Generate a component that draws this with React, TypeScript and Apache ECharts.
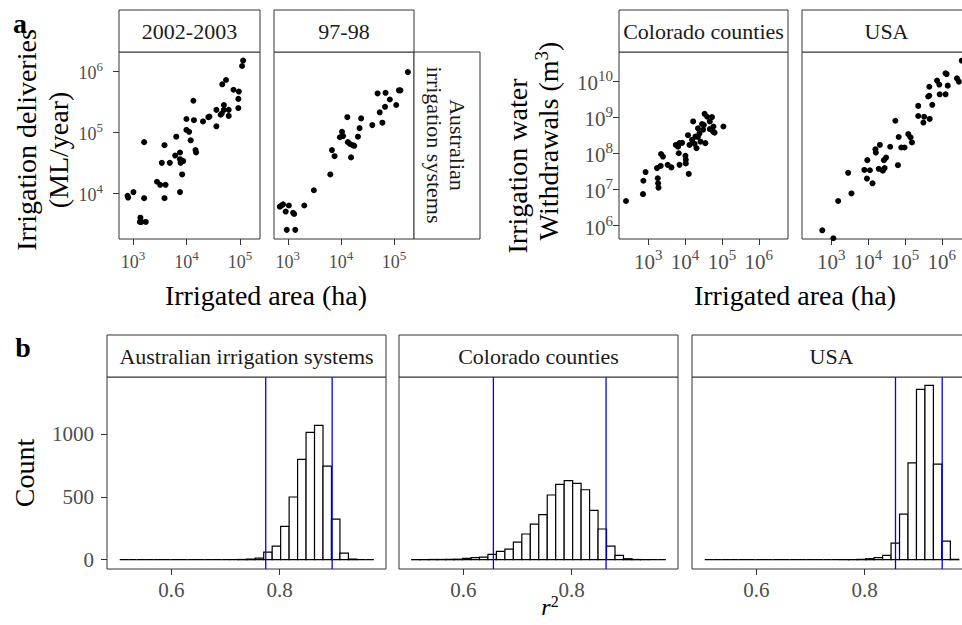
import React, { useEffect, useRef } from "react";
import * as echarts from "echarts";

// ---------- DATA ----------
// panel a: log10(irrigated area, ha) vs log10(volume)
const aus0203 = [
  [2.91, 3.93], [2.9, 3.96], [3.01, 4.02], [3.21, 3.92], [3.21, 4.84], [3.14, 3.6], [3.16, 3.53], [3.24, 3.53], [3.13, 3.53],
  [3.45, 4.19], [3.51, 4.14], [3.54, 4.5], [3.59, 4.79], [3.61, 4.14], [3.59, 3.92], [3.69, 4.5], [3.81, 4.93], [3.79, 4.62],
  [3.88, 4.67], [3.88, 4.56], [3.89, 4.5], [3.91, 4.54], [3.92, 4.31], [3.88, 4.02], [3.94, 4.53], [4.0, 5.22], [4.0, 5.04],
  [4.05, 5.01], [4.08, 4.87], [4.13, 5.52], [4.14, 5.2], [4.17, 4.71], [4.18, 4.67], [4.31, 5.18], [4.41, 5.25], [4.43, 5.26],
  [4.56, 5.1], [4.56, 5.37], [4.64, 5.29], [4.66, 5.31], [4.67, 5.79], [4.74, 5.86], [4.7, 5.45], [4.7, 5.37], [4.79, 5.37],
  [4.79, 5.27], [4.88, 5.7], [4.98, 5.67], [4.97, 5.55], [4.97, 5.4], [5.04, 6.09], [5.06, 6.18],
];
const aus9798 = [
  [2.85, 3.78], [2.88, 3.8], [2.91, 3.82], [2.96, 3.7], [3.02, 3.8], [2.98, 3.4], [3.1, 3.68], [3.12, 3.66], [3.14, 3.4],
  [3.31, 3.8], [3.49, 4.05], [3.8, 4.31], [3.83, 4.71], [3.88, 4.61], [3.98, 4.92], [4.02, 5.01], [4.04, 4.94], [4.12, 5.25],
  [4.13, 4.84], [4.17, 4.81], [4.19, 4.59], [4.22, 4.79], [4.25, 4.78], [4.32, 4.93], [4.35, 5.07], [4.38, 5.23], [4.59, 5.12],
  [4.69, 5.64], [4.73, 5.33], [4.78, 5.16], [4.83, 5.42], [4.84, 5.65], [4.92, 5.54], [5.04, 5.45], [5.09, 5.69], [5.12, 5.69],
  [5.26, 5.99],
];
const coloradoPts = [
  [2.4, 6.68], [2.86, 6.87], [2.87, 7.24], [2.93, 7.48], [3.24, 7.59], [3.26, 7.31], [3.27, 7.17], [3.28, 7.05], [3.35, 7.98],
  [3.4, 7.91], [3.34, 7.65], [3.53, 7.68], [3.63, 7.61], [3.75, 8.23], [3.81, 8.18], [3.85, 8.28], [3.92, 8.29], [3.83, 8.0],
  [3.85, 7.68], [4.01, 7.93], [4.02, 7.82], [4.02, 7.72], [4.1, 7.43], [4.12, 8.23], [4.22, 8.88], [4.08, 8.5], [4.19, 8.37],
  [4.26, 8.26], [4.31, 8.14], [4.35, 8.45], [4.39, 8.55], [4.42, 8.32], [4.49, 8.65], [4.46, 8.81], [4.53, 9.09], [4.55, 8.28],
  [4.51, 8.78], [4.6, 9.01], [4.67, 8.88], [4.73, 9.0], [4.76, 8.6], [4.77, 8.74], [4.67, 8.67], [4.8, 8.57], [5.04, 8.74],
  [4.28, 8.46], [4.35, 8.69],
];
const usaPts = [
  [2.76, 5.87], [3.06, 5.65], [3.19, 6.68], [3.55, 6.89], [3.46, 7.46], [3.9, 7.54], [3.97, 7.3], [4.05, 7.53], [4.12, 7.17],
  [3.98, 7.81], [4.2, 8.11], [4.21, 8.02], [4.32, 8.23], [4.29, 7.57], [4.4, 7.52], [4.45, 7.59], [4.43, 7.81], [4.49, 7.88],
  [4.6, 8.18], [4.74, 8.9], [4.81, 7.67], [4.83, 8.45], [4.9, 8.16], [4.99, 8.16], [5.09, 8.53], [5.15, 8.44], [5.19, 8.3],
  [5.36, 9.31], [5.36, 9.03], [5.52, 9.01], [5.5, 8.85], [5.67, 8.95], [5.74, 9.34], [5.63, 9.57], [5.66, 9.84], [5.66, 9.59],
  [5.87, 10.01], [5.93, 9.9], [5.94, 9.63], [6.1, 9.63], [6.16, 9.87], [6.1, 10.21], [6.13, 10.19], [6.41, 10.07], [6.46, 9.98],
  [6.54, 10.56],
];

// panel b: bootstrap r^2 histograms (30 bins)
const binStart = 0.5045;
const binWidth = 0.01565;
const histAus = [0, 0, 0, 0, 0, 0, 0, 0, 0, 0, 0, 0, 0, 1, 2, 5, 12, 61, 109, 266, 500, 800, 1015, 1071, 747, 324, 53, 5, 0, 0];
const histColorado = [1, 1, 2, 2, 3, 4, 10, 16, 21, 43, 66, 85, 141, 205, 284, 359, 516, 601, 630, 609, 558, 393, 245, 109, 35, 8, 2, 1, 0, 0];
const histUsa = [0, 0, 0, 0, 0, 0, 0, 0, 0, 0, 0, 0, 0, 0, 0, 0, 1, 1, 3, 8, 16, 35, 133, 364, 773, 1358, 1390, 763, 149, 3];
const ciAus = [0.7743, 0.897];
const ciColorado = [0.6554, 0.8636];
const ciUsa = [0.857, 0.9433];

const stripTopLabels = ["2002-2003", "97-98", "Colorado counties", "USA"];
const stripRightLabel = "Australian\nirrigation systems";
const stripBottomLabels = ["Australian irrigation systems", "Colorado counties", "USA"];
const ticksAusX = [3, 4, 5];
const ticksAusY = [4, 5, 6];
const ticksUsX = [3, 4, 5, 6];
const ticksUsY = [6, 7, 8, 9, 10];
const ticksHistX = [0.6, 0.8];
const ticksHistY = [0, 500, 1000];

// ---------- STYLE ----------
const FAM = "Liberation Serif, serif";
const GREY = "#4d4d4d";
const DARK = "#333333";

const gridBoxes = [
  { left: 119, top: 52, width: 141, height: 187 },
  { left: 274, top: 52, width: 140, height: 187 },
  { left: 619, top: 52, width: 169, height: 187 },
  { left: 802, top: 52, width: 169, height: 187 },
  { left: 107, top: 377, width: 279, height: 192 },
  { left: 399, top: 377, width: 279, height: 192 },
  { left: 692, top: 377, width: 279, height: 192 },
];

function powLabel(base: number, sup: number, margin: number, values: number[]) {
  return {
    show: true,
    customValues: values,
    margin,
    color: GREY,
    fontFamily: FAM,
    fontSize: base,
    formatter: (v: number) => `{b|10}{s|${Math.round(v)}}`,
    rich: {
      b: { fontSize: base, fontFamily: FAM, color: GREY, lineHeight: base + 4, verticalAlign: "bottom" },
      s: { fontSize: sup, fontFamily: FAM, color: GREY, lineHeight: sup + 2, verticalAlign: "top" },
    },
  };
}

function axis(gi: number, min: number, max: number, ticks: number[] | null, label: any) {
  return {
    type: "value",
    gridIndex: gi,
    min,
    max,
    axisLine: { show: false, onZero: false },
    splitLine: { show: false },
    axisTick: ticks
      ? { show: true, customValues: ticks, length: 6, lineStyle: { color: DARK, width: 1 } }
      : { show: false },
    axisLabel: label || { show: false },
  };
}

function histLabel(values: number[], margin: number, fmt: (v: number) => string) {
  return {
    show: true,
    customValues: values,
    margin,
    color: GREY,
    fontSize: 21,
    fontFamily: FAM,
    formatter: fmt,
  };
}

function histSeries(counts: number[], gi: number) {
  return {
    type: "custom",
    xAxisIndex: gi,
    yAxisIndex: gi,
    encode: { x: [0, 1], y: 2 },
    data: counts.map((c, i) => [binStart + i * binWidth, binStart + (i + 1) * binWidth, c]),
    renderItem: (_p: any, api: any) => {
      const p0 = api.coord([api.value(0), api.value(2)]);
      const p1 = api.coord([api.value(1), 0]);
      return {
        type: "rect",
        shape: { x: p0[0], y: p0[1], width: p1[0] - p0[0], height: p1[1] - p0[1] },
        style: { fill: "#ffffff", stroke: "#000000", lineWidth: 1.2 },
      };
    },
    z: 2,
  };
}

const HIST_Y: [number, number] = [-74, 1457];

function ciSeries(ci: number[], gi: number) {
  return ci.map((v) => ({
    type: "line",
    xAxisIndex: gi,
    yAxisIndex: gi,
    data: [[v, HIST_Y[0]], [v, HIST_Y[1]]],
    symbol: "none",
    lineStyle: { color: "#0000ff", width: 1.3 },
    z: 3,
  }));
}

function scatterSeries(pts: number[][], gi: number) {
  return {
    type: "scatter",
    xAxisIndex: gi,
    yAxisIndex: gi,
    data: pts,
    symbolSize: 6,
    itemStyle: { color: "#000000", opacity: 1 },
    z: 2,
  };
}

function strip(x: number, y: number, w: number, h: number, label: string, fontSize = 22) {
  return [
    { type: "rect", shape: { x, y, width: w, height: h }, style: { fill: "#ffffff", stroke: DARK, lineWidth: 1 }, z: 10 },
    {
      type: "text",
      x: x + w / 2,
      y: y + h / 2,
      style: { text: label, fill: "#1a1a1a", fontSize, fontFamily: FAM, align: "center", verticalAlign: "middle" },
      z: 11,
    },
  ];
}

function txt(text: string, x: number, y: number, size: number, rotation = 0, weight = "normal", rich?: any) {
  return {
    type: "text",
    x,
    y,
    rotation,
    style: {
      text,
      fill: "#000000",
      fontSize: size,
      fontWeight: weight,
      fontFamily: FAM,
      align: "center",
      verticalAlign: "middle",
      rich,
    },
    z: 12,
  };
}

export default function App() {
  const ref = useRef<HTMLDivElement>(null);
  useEffect(() => {
    if (!ref.current) return;
    const chart = echarts.init(ref.current, undefined, { renderer: "svg" });

    const grid = gridBoxes.map((g) => ({
      ...g,
      show: true,
      backgroundColor: "#ffffff",
      borderColor: DARK,
      borderWidth: 1,
      containLabel: false,
      outerBoundsMode: "none",
    }));

    const xAxis = [
      axis(0, 2.74, 5.375, ticksAusX, powLabel(18, 13, 10, ticksAusX)),
      axis(1, 2.74, 5.375, ticksAusX, powLabel(18, 13, 10, ticksAusX)),
      axis(2, 2.21, 6.79, ticksUsX, powLabel(21, 15, 8, ticksUsX)),
      axis(3, 2.21, 6.79, ticksUsX, powLabel(21, 15, 8, ticksUsX)),
      axis(4, 0.481, 0.9965, ticksHistX, histLabel(ticksHistX, 10, (v) => v.toFixed(1))),
      axis(5, 0.481, 0.9965, ticksHistX, histLabel(ticksHistX, 10, (v) => v.toFixed(1))),
      axis(6, 0.481, 0.9965, ticksHistX, histLabel(ticksHistX, 10, (v) => v.toFixed(1))),
    ];
    const yAxis = [
      axis(0, 3.25, 6.32, ticksAusY, powLabel(18, 13, 16, ticksAusY)),
      axis(1, 3.25, 6.32, null, null),
      axis(2, 5.63, 10.8, ticksUsY, powLabel(21, 15, 6, ticksUsY)),
      axis(3, 5.63, 10.8, null, null),
      axis(4, HIST_Y[0], HIST_Y[1], ticksHistY, histLabel(ticksHistY, 13, (v) => String(v))),
      axis(5, HIST_Y[0], HIST_Y[1], null, null),
      axis(6, HIST_Y[0], HIST_Y[1], null, null),
    ];

    const series: any[] = [
      scatterSeries(aus0203, 0),
      scatterSeries(aus9798, 1),
      scatterSeries(coloradoPts, 2),
      scatterSeries(usaPts, 3),
      histSeries(histAus, 4),
      histSeries(histColorado, 5),
      histSeries(histUsa, 6),
      ...ciSeries(ciAus, 4),
      ...ciSeries(ciColorado, 5),
      ...ciSeries(ciUsa, 6),
    ];

    const graphic: any[] = [
      ...strip(119, 10, 141, 42, stripTopLabels[0]),
      ...strip(274, 10, 140, 42, stripTopLabels[1]),
      ...strip(619, 10, 169, 42, stripTopLabels[2]),
      ...strip(802, 10, 169, 42, stripTopLabels[3]),
      { type: "rect", shape: { x: 414, y: 52, width: 66, height: 187 }, style: { fill: "#ffffff", stroke: DARK, lineWidth: 1 }, z: 10 },
      {
        type: "text",
        x: 446,
        y: 145,
        rotation: -Math.PI / 2,
        style: { text: stripRightLabel, fill: "#1a1a1a", fontSize: 22, fontFamily: FAM, align: "center", verticalAlign: "middle", lineHeight: 23 },
        z: 11,
      },
      ...strip(107, 335, 279, 42, stripBottomLabels[0]),
      ...strip(399, 335, 279, 42, stripBottomLabels[1]),
      ...strip(692, 335, 279, 42, stripBottomLabels[2]),
      txt("a", 20, 23, 28, 0, "bold"),
      txt("b", 23, 347, 28, 0, "bold"),
      txt("Irrigation deliveries", 26, 140, 28, Math.PI / 2),
      txt("(ML/year)", 58, 150, 28, Math.PI / 2),
      txt("Irrigated area (ha)", 266, 295, 28),
      txt("Irrigation water", 517, 166, 28, Math.PI / 2),
      txt("{t|Withdrawals (m}{s|3}{t|)}", 547, 141, 28, Math.PI / 2, "normal", {
        t: { fontSize: 28, fontFamily: FAM, color: "#000", lineHeight: 30, verticalAlign: "bottom" },
        s: { fontSize: 19, fontFamily: FAM, color: "#000", lineHeight: 19, verticalAlign: "top" },
      }),
      txt("Irrigated area (ha)", 795, 295, 28),
      txt("Count", 24, 473, 28, Math.PI / 2),
      txt("{i|r}{s|2}", 550, 606, 26, 0, "normal", {
        i: { fontSize: 24, fontFamily: FAM, fontStyle: "italic", color: "#000", lineHeight: 26, verticalAlign: "bottom" },
        s: { fontSize: 16, fontFamily: FAM, color: "#000", lineHeight: 16, verticalAlign: "top" },
      }),
    ];

    chart.setOption({
      animation: false,
      backgroundColor: "#ffffff",
      grid,
      xAxis,
      yAxis,
      series,
      graphic,
    });
    return () => chart.dispose();
  }, []);
  return <div ref={ref} style={{ position: "fixed", left: 0, top: 0, width: 962, height: 625 }} />;
}
